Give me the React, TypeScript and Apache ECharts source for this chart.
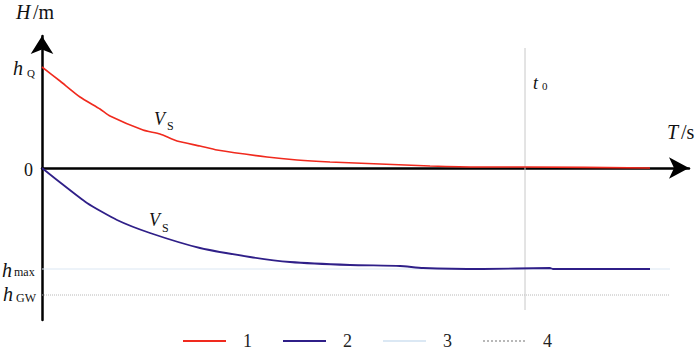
import React, { useEffect, useRef } from "react";
import * as echarts from "echarts";

// x in time units (0 at origin), y in head units (0 on T axis)
const redX = [0, 18, 38, 58, 68, 101, 118, 135, 158, 175, 225, 255, 288, 338, 388, 438, 483, 608];
const redY = [101, 87, 71, 59, 52, 38, 34, 27, 22, 18, 11, 8, 6, 4, 2, 1, 1, 0];
const blueX = [0, 15, 45, 75, 108, 158, 208, 248, 308, 358, 381, 441, 508, 511, 608];
const blueY = [0, -12, -35, -52, -65, -80, -89, -94, -97, -98, -100, -101, -100, -101, -101];
const hMaxX = [0, 628];
const hMaxY = [-101, -101];
const hGwX = [0, 628];
const hGwY = [-127, -127];
const t0X = [483, 483];
const t0Y = [120, -142];
const legendNames = ["1", "2", "3", "4"];

const FONT = "'Liberation Serif', 'DejaVu Serif', serif";

const zip = (xs: number[], ys: number[]) => xs.map((x, i) => [x, ys[i]]);

export default function App() {
  const ref = useRef<HTMLDivElement>(null);
  useEffect(() => {
    document.body.style.margin = "0";
    if (!ref.current) return;
    const chart = echarts.init(ref.current, undefined, { renderer: "svg" });
    const txt = (text: string, x: number, y: number, size: number, italic = false) => ({
      type: "text",
      x,
      y,
      style: {
        text,
        font: `${italic ? "italic " : ""}${size}px ${FONT}`,
        fill: "#111",
        textAlign: "left",
        textVerticalAlign: "middle",
      },
    });
    chart.setOption({
      animation: false,
      grid: { left: 42, right: 11, top: 36, bottom: 30 },
      xAxis: {
        type: "value",
        min: 0,
        max: 647,
        axisLine: {
          onZero: true,
          symbol: ["none", "arrow"],
          symbolSize: [16, 20],
          lineStyle: { color: "#000", width: 2.5 },
        },
        axisTick: { show: false },
        axisLabel: { show: false },
        splitLine: { show: false },
      },
      yAxis: {
        type: "value",
        min: -152,
        max: 132,
        axisLine: {
          show: true,
          symbol: ["none", "arrow"],
          symbolSize: [17, 18],
          lineStyle: { color: "#000", width: 2.5 },
        },
        axisTick: { show: false },
        axisLabel: { show: false },
        splitLine: { show: false },
      },
      legend: {
        data: legendNames,
        left: 177,
        top: 327,
        padding: 5,
        itemWidth: 43,
        itemHeight: 14,
        itemGap: 30,
        itemStyle: { opacity: 0 },
        textStyle: { fontFamily: FONT, fontSize: 18, lineHeight: 16, color: "#222", padding: [0, 0, 0, 12] },
      },
      series: [
        {
          name: "1",
          type: "line",
          symbol: "none",
          data: zip(redX, redY),
          smooth: 0.2,
          lineStyle: { color: "#f02a1e", width: 1.6 },
          itemStyle: { color: "#f02a1e" },
          z: 5,
        },
        {
          name: "2",
          type: "line",
          symbol: "none",
          data: zip(blueX, blueY),
          smooth: 0.2,
          lineStyle: { color: "#2f1f88", width: 1.8 },
          itemStyle: { color: "#2f1f88" },
          z: 5,
        },
        {
          name: "3",
          type: "line",
          symbol: "none",
          data: zip(hMaxX, hMaxY),
          lineStyle: { color: "#dbe8f4", width: 1.2 },
          itemStyle: { color: "#dbe8f4" },
        },
        {
          name: "4",
          type: "line",
          symbol: "none",
          data: zip(hGwX, hGwY),
          lineStyle: { color: "#b8b8b8", width: 1, type: "dotted" },
          itemStyle: { color: "#b8b8b8" },
        },
        {
          name: "t0",
          type: "line",
          symbol: "none",
          data: zip(t0X, t0Y),
          lineStyle: { color: "#c8c8c8", width: 1 },
          itemStyle: { color: "#c8c8c8" },
        },
      ],
      graphic: [
        txt("H", 16, 12, 20, true),
        txt("/m", 33, 12, 20),
        txt("h", 13, 68, 20, true),
        txt("Q", 27, 73, 11),
        txt("0", 24, 170, 18),
        txt("h", 2, 270, 20, true),
        txt("max", 14, 272, 12),
        txt("h", 3, 294, 20, true),
        txt("GW", 16, 298, 12),
        txt("T", 667, 132, 20, true),
        txt("/s", 681, 132, 20),
        txt("t", 533, 83, 18, true),
        txt("0", 542, 86, 11),
        txt("V", 154, 119, 18, true),
        txt("S", 167, 126, 12),
        txt("V", 149, 220, 18, true),
        txt("S", 162, 228, 12),
      ],
    });
    return () => chart.dispose();
  }, []);
  return <div ref={ref} style={{ width: 700, height: 350 }} />;
}
